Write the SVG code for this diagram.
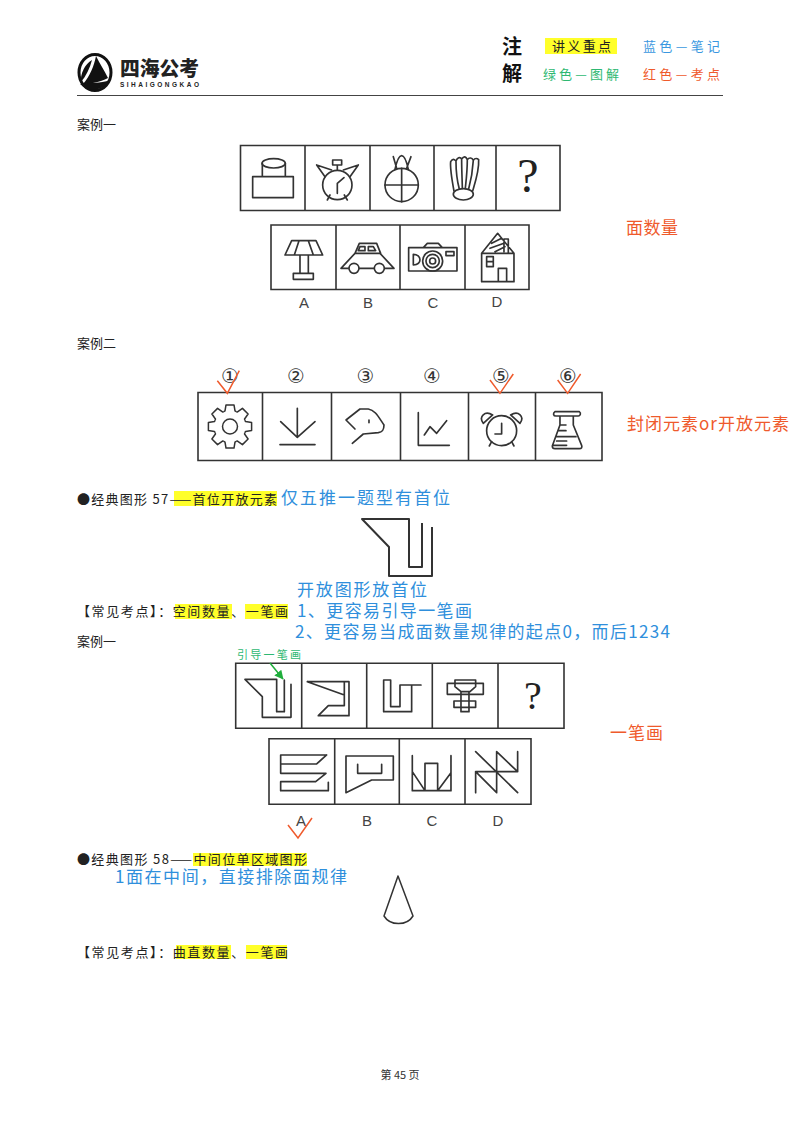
<svg xmlns="http://www.w3.org/2000/svg" width="800" height="1131" viewBox="0 0 800 1131">
<style>
text{font-family:"Noto Sans CJK SC","Liberation Sans",sans-serif}
.b{font-size:13px;fill:#222}
.h{fill:#ffff2a}
.blue{fill:#2f8fdc;font-size:17px}
.red{fill:#ef5a2c;font-size:17px}
.n{fill:none;stroke:#333;stroke-width:2;stroke-linejoin:round}
.z{fill:none;stroke:#333;stroke-width:5;stroke-linejoin:round;stroke-linecap:round}
.box{fill:none;stroke:#333;stroke-width:1.6}
.ck{fill:none;stroke:#ef5a2c;stroke-width:1.5}
.ltr{font-family:"Liberation Sans",sans-serif;font-size:15px;fill:#444;text-anchor:middle}
.num{font-family:"DejaVu Sans",sans-serif;font-size:20px;fill:#333;text-anchor:middle}
.q{font-family:"Liberation Serif",serif;font-size:48px;fill:#222;text-anchor:middle}
</style>
<defs>
<marker id="ga" markerWidth="7" markerHeight="7" refX="5.5" refY="3" orient="auto"><path d="M0,0L6,3L0,6z" fill="#1fae3c"/></marker>
<path id="tooth" d="M-6.1,-14.8L-5,-15.6L-4,-21.6L4,-21.6L5,-15.6L6.1,-14.8" fill="none" stroke="#333" stroke-width="1.5" stroke-linejoin="round"/>
</defs>
<rect width="800" height="1131" fill="#fff"/>

<g id="header">
<ellipse cx="95" cy="72.500" rx="16" ry="18" fill="none" stroke="#111" stroke-width="3"/>
<path d="M96,56C100,64 104,70 108,78C100,82 90,84 83,84C90,76 94,66 96,56z" fill="#111"/>
<path d="M92,60C90,68 86,76 81,82C80,74 85,64 92,60z" fill="#111"/>
<path d="M80,84C90,82 100,84 110,80C104,90 90,94 80,84z" fill="#111"/>
<text x="120" y="76" font-size="20" font-weight="900" fill="#222" textLength="79" lengthAdjust="spacingAndGlyphs">四海公考</text>
<text x="120" y="87" font-size="6.500" font-weight="700" fill="#222" textLength="79" style="font-family:'Liberation Sans',sans-serif">SIHAIGONGKAO</text>
<text x="502" y="54" font-size="20" font-weight="700" fill="#111">注</text>
<text x="502" y="81" font-size="20" font-weight="700" fill="#111">解</text>
<rect class="h" x="545" y="38" width="72" height="16"/>
<text class="b" x="552" y="51" textLength="59">讲义重点</text>
<text x="643" y="51" font-size="13" fill="#3a97e0" textLength="77">蓝色—笔记</text>
<text x="543" y="79" font-size="13" fill="#2eb872" textLength="76">绿色—图解</text>
<text x="643" y="79" font-size="13" fill="#ef5a2c" textLength="77">红色—考点</text>
<line x1="77" y1="95.500" x2="723" y2="95.500" stroke="#444" stroke-width="1.200"/>
</g>

<text class="b" x="77" y="129">案例一</text>

<g id="q1-row1">
<path class="box" d="M240.500,145.500H560V210.500H240.500zM305,145.500V210.500M370,145.500V210.500M434,145.500V210.500M496,145.500V210.500"/>
<g transform="translate(230,135) scale(.3333)">
<path class="z" d="M68,125H190V188H68zM97,85V125M166,85V125"/><ellipse class="z" cx="131" cy="85" rx="35" ry="14"/>
<circle class="z" cx="322" cy="150" r="44"/><path class="z" d="M322,175V145L342,128M260,90L285,125M260,90L305,105M385,90L340,105M385,90L360,125M308,75H335V90H308zM322,90V105M300,180L292,195M343,180L352,195"/>
<circle class="z" cx="515" cy="150" r="50"/><path class="z" d="M465,150H565M515,100V200M495,103C500,80 505,62 515,62C525,62 530,80 535,103M490,65L500,100M543,65L530,100"/>
<ellipse class="z" cx="700" cy="178" rx="30" ry="17"/><path class="z" d="M672,168C665,130 660,100 662,80C668,70 672,72 678,78C682,68 690,64 695,72C702,62 708,64 712,74C718,66 726,68 730,76C735,68 742,70 746,74C748,105 738,135 728,168M678,78C678,110 682,140 688,162M695,72C695,110 697,140 697,160M712,74C712,110 708,140 706,160M730,76C728,110 722,140 716,162"/>
</g>
<text class="q" x="528" y="192">?</text>
</g>

<g id="q1-row2">
<path class="box" d="M271,225H529V289.500H271zM336,225V289.500M400,225V289.500M465,225V289.500"/>
<g transform="translate(230,135) scale(.3333)">
<path class="z" d="M185,317H258L278,360H165zM207,317L193,360M235,317L250,360M210,360V415M235,360V415M190,415H250V433H190z"/>
<path class="z" d="M333,400L375,355H450L492,400zM375,355L388,325H440L452,355M385,347L390,335H405V347zM415,347V335H430L437,347z"/><circle class="z" cx="372" cy="400" r="15" style="fill:#fff"/><circle class="z" cx="448" cy="400" r="15" style="fill:#fff"/>
<path class="z" d="M536,338H681V408H536zM580,338L592,325H625L637,338M550,358V390C565,388 570,380 570,374C570,366 562,358 550,358zM648,350H672V362H648z"/><circle class="z" cx="608" cy="378" r="30"/><circle class="z" cx="608" cy="378" r="20"/><circle class="z" cx="608" cy="378" r="9"/>
<path class="z" d="M755,355H852V440H755zM755,355L803,295L852,355M805,440V400H830V440M770,365H790V395H770zM770,380H790M822,350V312H835V355M785,325L815,310M780,340L822,325M795,350L825,335"/>
</g>
<text class="ltr" x="304" y="308">A</text><text class="ltr" x="368" y="308">B</text><text class="ltr" x="433" y="308">C</text><text class="ltr" x="497" y="307">D</text>
</g>
<text class="red" x="626" y="234" textLength="52">面数量</text>

<text class="b" x="77" y="348">案例二</text>

<g id="q2">
<path class="box" d="M198,392.500H602V460.500H198zM262.500,392.500V460.500M331.500,392.500V460.500M400.500,392.500V460.500M468.500,392.500V460.500M535.500,392.500V460.500"/>
<text class="num" x="230" y="383">①</text><text class="num" x="296" y="383">②</text><text class="num" x="365.500" y="383">③</text><text class="num" x="432" y="383">④</text><text class="num" x="501" y="383">⑤</text><text class="num" x="568" y="383">⑥</text>
<g transform="translate(230,426.500)"><use href="#tooth"/><use href="#tooth" transform="rotate(45)"/><use href="#tooth" transform="rotate(90)"/><use href="#tooth" transform="rotate(135)"/><use href="#tooth" transform="rotate(180)"/><use href="#tooth" transform="rotate(225)"/><use href="#tooth" transform="rotate(270)"/><use href="#tooth" transform="rotate(315)"/><circle r="7.500" fill="none" stroke="#333" stroke-width="1.500"/></g>
<g transform="translate(190,360) scale(.3333)">
<path class="z" d="M322,145V232M272,185L322,232L375,185M270,254H375"/>
<path class="z" d="M495,207L468,180L510,147H535C555,150 565,170 582,195C582,210 578,216 565,218L520,222L487,250M537,180V188"/>
<path class="z" d="M685,158V256H778M703,225L720,200L740,220L770,182"/>
<circle class="z" cx="935" cy="212" r="45"/><path class="z" d="M935,190V222H915M898,258L905,245M972,258L965,245M880,190C865,170 885,150 908,165zM990,190C1005,170 985,150 962,165z"/>
<path class="z" d="M1095,155H1168C1175,160 1170,168 1165,168H1098C1090,168 1088,160 1095,155zM1110,168V195L1087,258C1087,264 1090,266 1095,266H1168C1175,266 1177,262 1175,256L1150,195V168M1100,230H1158M1090,256H1130M1110,195H1128M1106,212H1128M1100,243H1130"/>
</g>
<g transform="translate(190,360) scale(.3333)" style="stroke-width:4.500"><path class="ck" style="stroke-width:4.500" d="M82,62L112,100L148,32M900,60L930,100L970,42M1103,60L1133,100L1172,42"/></g>
</g>
<text class="red" x="627" y="430" textLength="162">封闭元素or开放元素</text>

<g id="s57">
<rect class="h" x="174" y="491" width="103" height="15"/>
<text class="b" x="77" y="504" textLength="200">●经典图形 57——首位开放元素</text>
<text class="blue" x="281" y="504" textLength="169">仅五推一题型有首位</text>
<path class="n" d="M432,527V576H389V547L362,519H409V567H422V523"/>
<text class="blue" x="297" y="596" textLength="130">开放图形放首位</text>
<rect class="h" x="175" y="604" width="57" height="15"/><rect class="h" x="245" y="604" width="43" height="15"/>
<text class="b" x="77" y="616" textLength="211">【常见考点】：空间数量、一笔画</text>
<text class="blue" x="297" y="617" textLength="175">1、更容易引导一笔画</text>
<text class="blue" x="295" y="638" textLength="375">2、更容易当成面数量规律的起点0，而后1234</text>
<text class="b" x="77" y="646">案例一</text>
</g>

<g id="q3-row1">
<path class="box" d="M235.700,663.300H564V728.300H235.700zM301.700,663.300V728.300M366.700,663.300V728.300M432.300,663.300V728.300M498,663.300V728.300"/>
<g transform="translate(225,645) scale(.3333)">
<path class="z" d="M198,118V217H112V155L60,103H155V200H178V105"/>
<path class="z" d="M247,110H372V212H280L310,182H358V110M247,110L358,150"/>
<path class="z" d="M560,120V200H476V105H497V185H525V120H588"/>
<path class="z" d="M667,115H775V148H667zM690,105H752V125L735,140H708L690,125zM708,140V200H732V140M687,168H752V187H687z"/>
</g>
<text class="q" x="533" y="709" style="font-size:40px">?</text>
<text x="237" y="659" font-size="11" fill="#2eb872" textLength="64">引导一笔画</text>
<line x1="270" y1="663" x2="283" y2="679" stroke="#1fae3c" stroke-width="1.500" marker-end="url(#ga)"/>
</g>
<text class="red" x="610" y="739" textLength="53">一笔画</text>

<g id="q3-row2">
<path class="box" d="M269,738.700H531V804.300H269zM334.700,738.700V804.300M399.300,738.700V804.300M465,738.700V804.300"/>
<g transform="translate(225,645) scale(.3333)">
<path class="z" d="M305,330H167V357H275L305,330M167,357V385H303L272,410H167V437H310V412"/>
<path class="z" d="M363,333H505V405H440L363,443zM398,358V385H470V358"/>
<path class="z" d="M562,332V437H678V332M600,437V355H638V437M562,380L600,437M678,383L638,437"/>
<path class="z" d="M752,320L878,443M752,443V380H878V320L815,...Z" style="display:none"/>
<path class="z" d="M752,320L878,443M752,443V380H878V320M878,380L815,320V443L752,380"/>
</g>
<text class="ltr" x="301" y="826">A</text><text class="ltr" x="367" y="826">B</text><text class="ltr" x="432" y="826">C</text><text class="ltr" x="498" y="826">D</text>
<path class="ck" d="M288,825L298,838L312,818"/>
</g>

<g id="s58">
<rect class="h" x="193" y="853" width="114" height="13"/>
<text class="b" x="77" y="864" textLength="230">●经典图形 58——中间位单区域图形</text>
<text class="blue" x="115" y="883" textLength="232">1面在中间，直接排除面规律</text>
<path class="n" style="stroke-width:1.500" d="M398,876L384,916C390,926 407,926 413,916z"/>
<rect class="h" x="176" y="945" width="55" height="14"/><rect class="h" x="246" y="945" width="41" height="14"/>
<text class="b" x="77" y="957" textLength="211">【常见考点】：曲直数量、一笔画</text>
</g>

<text x="400" y="1079" font-size="11" fill="#333" text-anchor="middle" style="font-family:'Noto Sans CJK SC','Liberation Serif',serif">第 45 页</text>
</svg>
